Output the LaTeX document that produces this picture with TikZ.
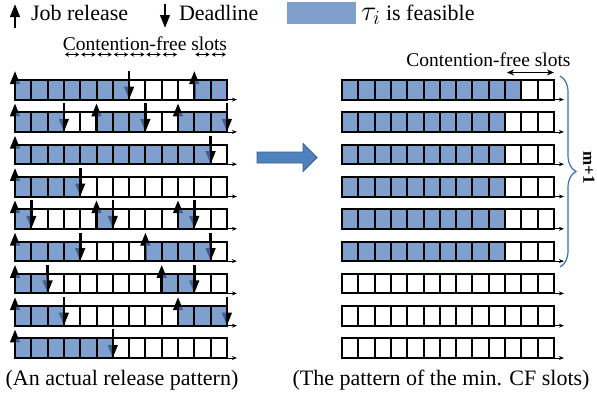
\RequirePackage{fix-cm}
\documentclass[tikz,border=0pt]{standalone}
\usepackage{fontspec}
\setmainfont{Liberation Serif}
\usetikzlibrary{arrows.meta,decorations.pathreplacing}

\definecolor{cellblue}{RGB}{84,128,188}
\definecolor{bigarrow}{RGB}{79,129,189}
\definecolor{bigarrowedge}{RGB}{56,93,138}
\definecolor{bracecol}{RGB}{52,112,186}

% slot geometry
\def\cw{16.3}
\def\rowh{19.6}
\def\pitch{32.3}

\tikzset{
  every node/.style={inner sep=0pt, outer sep=0pt},
  bigtext/.style={font=\fontsize{22}{26}\selectfont},
  midtext/.style={font=\fontsize{19.5}{23}\selectfont},
  relarrow/.style={line width=2.6pt, -{Triangle[length=13pt,width=9.5pt]}},
  dlarrow/.style={line width=2.6pt, -{Triangle[length=13pt,width=9.5pt]}},
  cellfill/.style={fill=cellblue, fill opacity=0.75},
  gridline/.style={line width=2pt, line join=miter},
  timeaxis/.style={line width=0.8pt, -{Stealth[length=5pt,width=4pt]}},
  cfsmall/.style={line width=1pt, {Stealth[length=4pt,width=4.5pt]}-{Stealth[length=4pt,width=4.5pt]}},
  cfbig/.style={line width=1.3pt, {Stealth[length=7pt,width=6pt]}-{Stealth[length=7pt,width=6pt]}},
}

% nine rows of 13 slots, left edge at #1
\newcommand{\slotrows}[1]{%
  \foreach \r in {0,...,8}{
    \pgfmathsetmacro\yt{80+\pitch*\r}
    \draw[timeaxis] (#1,\yt+\rowh) -- (#1+13*\cw+10,\yt+\rowh);
    \draw[gridline] (#1,\yt) rectangle (#1+13*\cw,\yt+\rowh);
    \foreach \k in {1,...,12}
      \draw[gridline] (#1+\k*\cw,\yt) -- (#1+\k*\cw,\yt+\rowh);
  }%
}

\begin{document}
\begin{tikzpicture}[x=1pt,y=-1pt]
\useasboundingbox (0,0) rectangle (597,400);

% ---------- legend ----------
\draw[relarrow] (15,28) -- (15,4);
\node[bigtext, anchor=base west] (lgrel) at (31,20) {Job release};
\draw[dlarrow] (165,4) -- (165,28);
\node[bigtext, anchor=base west] (lgdl) at (179,20) {Deadline};
\fill[cellfill] (287,2) rectangle (356,24);
\node[bigtext, anchor=base west] (lgfeas) at (361,20) {\scalebox{1.3}{$\tau_i$} is feasible};

% ---------- actual release pattern ----------
% release arrows (drawn first, the shaded slots go over them)
\foreach \r/\a in {0/0,0/11,1/0,1/5,1/10,2/0,3/0,4/0,4/5,4/10,5/0,5/8,6/0,6/9,7/0,7/10,8/0}{
  \pgfmathsetmacro\yt{80+\pitch*\r}
  \draw[relarrow] (15+\a*\cw,\yt+\rowh) -- (15+\a*\cw,\yt-9);
}
% deadline arrows
\foreach \r/\d in {0/7,1/3,1/8,1/13,2/12,3/4,4/1,4/6,4/11,5/4,5/12,6/2,6/11,7/3,7/13,8/6}{
  \pgfmathsetmacro\yt{80+\pitch*\r}
  \draw[dlarrow] (15+\d*\cw,\yt-9) -- (15+\d*\cw,\yt+\rowh);
}
% executed slots
\foreach \r/\a/\b in {0/0/7,0/11/13,1/0/3,1/5/8,1/10/13,2/0/12,3/0/4,4/0/1,4/5/6,4/10/11,5/0/4,5/8/12,6/0/2,6/9/11,7/0/3,7/10/13,8/0/6}{
  \pgfmathsetmacro\yt{80+\pitch*\r}
  \fill[cellfill] (15+\a*\cw,\yt) rectangle (15+\b*\cw,\yt+\rowh);
}
\slotrows{15}

% contention-free slots
\node[midtext, anchor=base] (cfl) at (145,50.5) {Contention-free slots};
\foreach \k in {3,...,9,11,12}
  \draw[cfsmall] (15+\k*\cw+1,54.5) -- (15+\k*\cw+\cw-1,54.5);

\node[bigtext, anchor=base] (capl) at (122,385) {(An actual release pattern)};

% ---------- transition arrow ----------
\draw[fill=bigarrow, draw=bigarrowedge, line width=0.8pt]
  (257,152) -- (303,152) -- (303,143.5) -- (317,157.5) -- (303,171.5) -- (303,163) -- (257,163) -- cycle;

% ---------- minimum contention-free pattern ----------
\foreach \r/\b in {0/11,1/10,2/10,3/10,4/10,5/10}{
  \pgfmathsetmacro\yt{80+\pitch*\r}
  \fill[cellfill] (342,\yt) rectangle (342+\b*\cw,\yt+\rowh);
}
\slotrows{342}

\node[midtext, anchor=base] (cfr) at (488.5,66) {Contention-free slots};
\coordinate (cfa) at (342+10*\cw+2,72.5);
\coordinate (cfb) at (342+13*\cw,72.5);
\draw[cfbig] (cfa) -- (cfb);

\draw[bracecol, line width=1.2pt, decorate, decoration={brace, amplitude=16pt}]
  (560,76) -- (560,267);
\node[font=\bfseries\fontsize{17}{17}\selectfont, rotate=-90] (mlabel) at (589,168) {m+1};

\node[bigtext, anchor=base] (capr) at (441,385) {(The pattern of the min. CF slots)};
\end{tikzpicture}
\end{document}
